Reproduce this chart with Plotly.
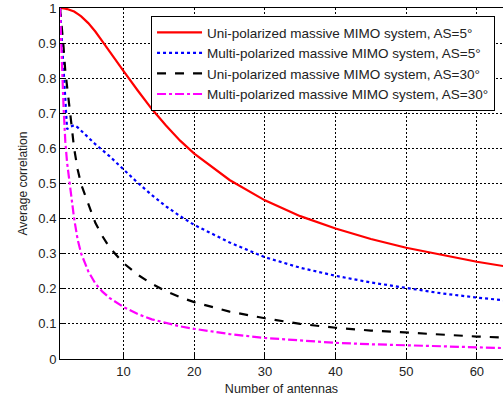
import plotly.graph_objects as go

antennas = [1, 1.25, 1.5, 1.75, 2, 2.5, 3, 3.5, 4, 5, 6, 7, 8, 10, 12, 14, 16, 18, 20,
            25, 30, 35, 40, 45, 50, 55, 60, 64]

uni_as5 = [1.0, 1.0, 0.999, 0.998, 0.997, 0.994, 0.99, 0.983, 0.976, 0.957, 0.933, 0.905,
           0.876, 0.82, 0.765, 0.712, 0.665, 0.622, 0.585, 0.51, 0.452, 0.407, 0.372,
           0.342, 0.317, 0.296, 0.277, 0.264]
multi_as5 = [1.0, 0.91, 0.82, 0.73, 0.655, 0.662, 0.666, 0.66, 0.65, 0.63, 0.612, 0.595,
             0.578, 0.54, 0.502, 0.467, 0.435, 0.407, 0.382, 0.332, 0.29, 0.26, 0.237,
             0.218, 0.202, 0.187, 0.175, 0.167]
uni_as30 = [1.0, 0.95, 0.89, 0.82, 0.78, 0.69, 0.6, 0.54, 0.497, 0.44, 0.388, 0.35,
            0.318, 0.273, 0.24, 0.214, 0.193, 0.176, 0.162, 0.135, 0.116, 0.1, 0.089,
            0.081, 0.075, 0.069, 0.064, 0.061]
multi_as30 = [1.0, 0.85, 0.72, 0.62, 0.56, 0.48, 0.4, 0.34, 0.3, 0.25, 0.215, 0.192,
              0.174, 0.148, 0.128, 0.113, 0.102, 0.093, 0.086, 0.071, 0.06, 0.052, 0.046,
              0.042, 0.039, 0.035, 0.032, 0.031]

names = ["Uni-polarized massive MIMO system, AS=5°",
         "Multi-polarized massive MIMO system, AS=5°",
         "Uni-polarized massive MIMO system, AS=30°",
         "Multi-polarized massive MIMO system, AS=30°"]
series = [uni_as5, multi_as5, uni_as30, multi_as30]
colors = ["#ff0000", "#0000ff", "#000000", "#ff00ff"]
dashes = ["solid", "dot", "dash", "dashdot"]

x_ticks = [10, 20, 30, 40, 50, 60]
y_ticks = [0, 0.1, 0.2, 0.3, 0.4, 0.5, 0.6, 0.7, 0.8, 0.9, 1]
y_labels = ["0", "0.1", "0.2", "0.3", "0.4", "0.5", "0.6", "0.7", "0.8", "0.9", "1"]

fig = go.Figure()
for name, ys, c, d in zip(names, series, colors, dashes):
    fig.add_trace(go.Scatter(x=antennas, y=ys, mode="lines", name=name,
                             line=dict(color=c, dash=d, width=2.2)))

font = "Liberation Sans, Arial, sans-serif"
fig.update_layout(
    width=503, height=403,
    margin=dict(l=60, r=0, t=8, b=44),
    paper_bgcolor="white", plot_bgcolor="white",
    font=dict(family=font, size=13, color="#222"),
    showlegend=True,
    legend=dict(x=0.982, xanchor="right", y=0.977, yanchor="top",
                bgcolor="white", bordercolor="black", borderwidth=1,
                font=dict(family=font, size=13.5, color="#222"),
                tracegroupgap=0, itemwidth=45),
    xaxis=dict(range=[1, 63.7], tickvals=x_ticks, ticks="inside", ticklen=5,
               tickcolor="black", showline=True, linecolor="black", linewidth=1,
               mirror=True, showgrid=True, gridcolor="black", griddash="2px,2px",
               gridwidth=0.8, zeroline=False,
               title=dict(text="Number of antennas", font=dict(size=12.5), standoff=6)),
    yaxis=dict(range=[0, 1], tickvals=y_ticks, ticktext=y_labels, ticks="inside",
               ticklen=5, tickcolor="black", showline=True, linecolor="black",
               linewidth=1, mirror=True, showgrid=True, gridcolor="black",
               griddash="2px,2px", gridwidth=0.8, zeroline=False,
               title=dict(text="Average correlation", font=dict(size=12), standoff=8)),
)

fig.write_html("out.html")
